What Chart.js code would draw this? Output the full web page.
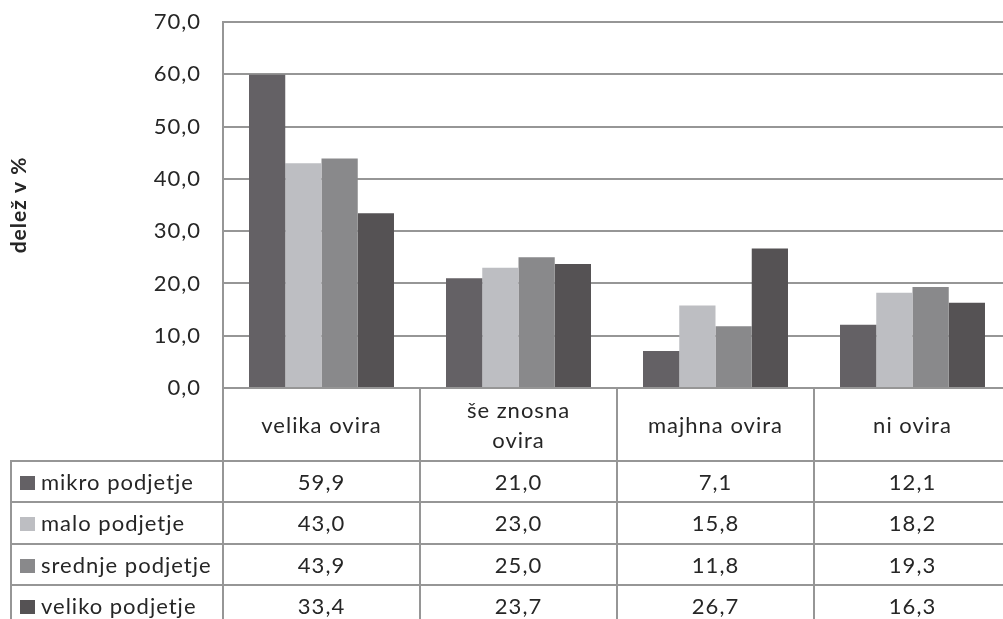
<!DOCTYPE html>
<html>
<head>
<meta charset="utf-8">
<script src="https://cdn.jsdelivr.net/npm/chart.js@4/dist/chart.umd.min.js"></script>
<style>
  html, body { margin: 0; padding: 0; background: #fff; overflow: hidden; }
  #wrap { width: 1011px; height: 619px; }
</style>
</head>
<body>
<div id="wrap"><canvas id="chart" width="1011" height="619"></canvas></div>
<script>
// data
const categories = ["velika ovira", ["še znosna", "ovira"], "majhna ovira", "ni ovira"];
const seriesNames = ["mikro podjetje", "malo podjetje", "srednje podjetje", "veliko podjetje"];
const mikro = [59.9, 21.0, 7.1, 12.1];
const malo = [43.0, 23.0, 15.8, 18.2];
const srednje = [43.9, 25.0, 11.8, 19.3];
const veliko = [33.4, 23.7, 26.7, 16.3];
const yTicks = [0, 10, 20, 30, 40, 50, 60, 70];

const colors = ["#646165", "#bdbec2", "#89898b", "#555254"];
const lineColor = "#969696";
const textColor = "#262626";
const fontFamily = "Lato, 'Open Sans', sans-serif";

const fmt = (v) => v.toFixed(1).replace(".", ",");

// data table drawn under the plot, aligned on the category scale
const dataTable = {
  id: "dataTable",
  beforeDraw(chart) {
    chart.ctx.letterSpacing = "1px";
  },
  afterDraw(chart) {
    const ctx = chart.ctx;
    const x = chart.scales.x;
    const area = chart.chartArea;
    const n = categories.length;
    const step = x.getPixelForValue(1) - x.getPixelForValue(0);
    const headerTop = area.bottom;
    const headerBottom = 461;
    const rowH = 41.4;
    const legendLeft = 11;
    const bottom = chart.height;

    ctx.save();
    ctx.strokeStyle = lineColor;
    ctx.lineWidth = 2;

    // verticals
    ctx.beginPath();
    for (let i = 0; i < n; i++) {
      const bx = Math.round(x.getPixelForValue(i) - step / 2);
      ctx.moveTo(bx, headerTop);
      ctx.lineTo(bx, bottom);
    }
    ctx.moveTo(legendLeft, headerBottom);
    ctx.lineTo(legendLeft, bottom);
    // horizontals
    for (let r = 0; r < 4; r++) {
      const y = Math.round(headerBottom + r * rowH);
      ctx.moveTo(legendLeft - 1, y);
      ctx.lineTo(chart.width, y);
    }
    ctx.stroke();

    ctx.fillStyle = textColor;
    ctx.font = "22px " + fontFamily;
    ctx.textBaseline = "middle";
    ctx.textAlign = "center";

    // header labels
    categories.forEach((c, i) => {
      const cx = x.getPixelForValue(i);
      const lines = Array.isArray(c) ? c : [c];
      const mid = (headerTop + headerBottom) / 2 + 1;
      lines.forEach((t, k) => {
        const y = mid + (k - (lines.length - 1) / 2) * 30;
        ctx.fillText(t, cx, y);
      });
    });

    // rows
    const series = [mikro, malo, srednje, veliko];
    series.forEach((vals, r) => {
      const cy = headerBottom + r * rowH + rowH / 2 + 1;
      ctx.fillStyle = colors[r];
      ctx.fillRect(20, Math.round(cy - 7), 15, 14);
      ctx.fillStyle = textColor;
      ctx.textAlign = "left";
      ctx.fillText(seriesNames[r], 41, cy);
      ctx.textAlign = "center";
      vals.forEach((v, i) => ctx.fillText(fmt(v), x.getPixelForValue(i), cy));
    });
    ctx.restore();
  }
};

const datasets = [mikro, malo, srednje, veliko].map((d, i) => ({
  label: seriesNames[i],
  data: d,
  backgroundColor: colors[i],
  borderWidth: 0,
  categoryPercentage: 0.736,
  barPercentage: 1.0
}));

new Chart(document.getElementById("chart"), {
  type: "bar",
  data: { labels: categories, datasets: datasets },
  options: {
    responsive: false,
    animation: false,
    layout: { padding: { top: 22, bottom: 231, left: 0, right: 0 } },
    plugins: { legend: { display: false }, tooltip: { enabled: false } },
    scales: {
      x: { display: false },
      y: {
        min: 0,
        max: 70,
        afterBuildTicks: (scale) => {
          scale.ticks = yTicks.map((v) => ({ value: v }));
        },
        afterFit: (scale) => {
          scale.width = 223;
          scale.paddingTop = 0;
          scale.paddingBottom = 0;
        },
        grid: { color: lineColor, lineWidth: 2, drawTicks: false },
        border: { display: true, color: lineColor, width: 2 },
        ticks: {
          padding: 22,
          color: textColor,
          font: { family: fontFamily, size: 22 },
          callback: (v) => fmt(v)
        },
        title: {
          display: true,
          text: "delež v %",
          color: textColor,
          font: { family: fontFamily, size: 21, weight: "bold" },
          padding: { top: 7, bottom: 0 }
        }
      }
    }
  },
  plugins: [dataTable]
});
</script>
</body>
</html>
